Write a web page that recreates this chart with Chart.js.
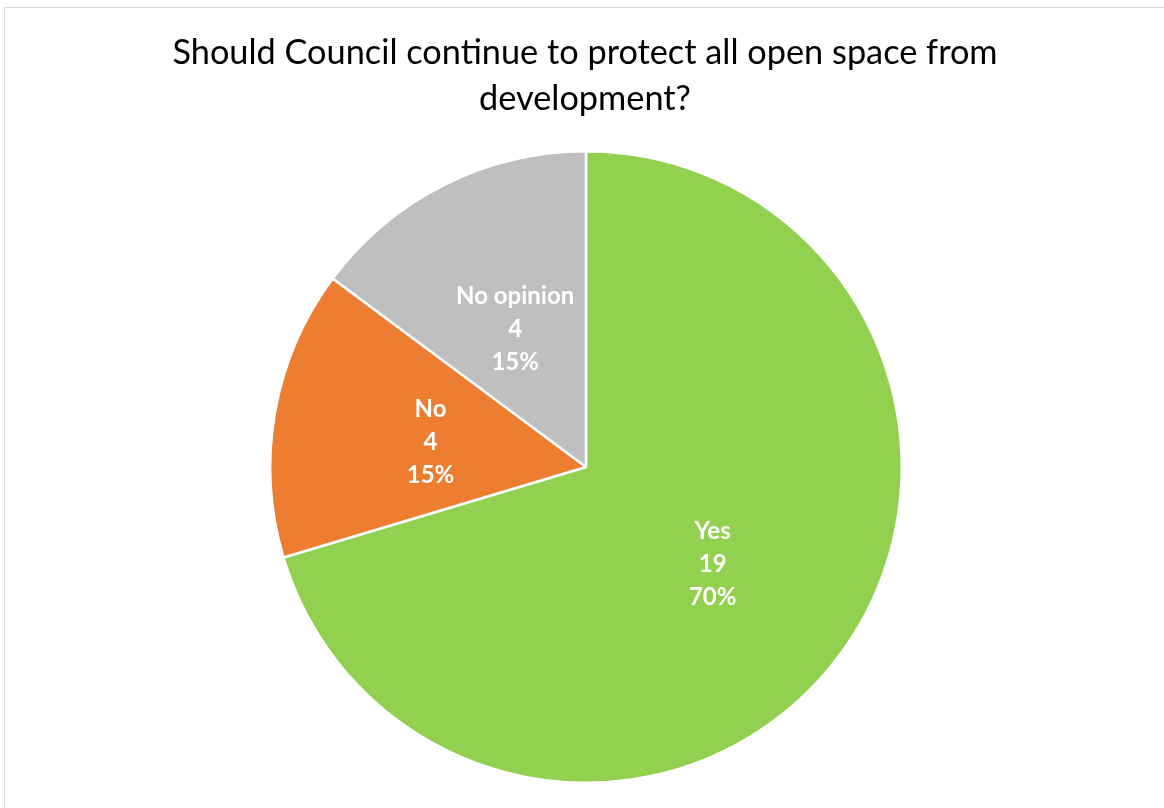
<!DOCTYPE html>
<html>
<head>
<meta charset="utf-8">
<script src="https://cdn.jsdelivr.net/npm/chart.js@4"></script>
<style>
  body { margin: 0; background: #fff; }
  #wrap { position: absolute; left: 4px; top: 7px; width: 1170px; height: 810px; border: 1.5px solid #d9d9d9; }
  #chart { position: absolute; left: 0; top: 0; }
</style>
</head>
<body>
<div id="wrap"></div>
<canvas id="chart" width="1164" height="808"></canvas>
<script>
const categorias = ['Yes', 'No', 'No opinion'];
const respuestas = [19, 4, 4];
const colores = ['#92D050', '#ED7D31', '#BFBFBF'];
const titulo = ['Should Council continue to protect all open space from', 'development?'];

const total = respuestas.reduce((a, b) => a + b, 0);

const etiquetas = {
  id: 'etiquetas',
  afterDraw(chart) {
    const ctx = chart.ctx;
    ctx.save();
    // titulo
    ctx.fillStyle = '#000';
    ctx.font = '34.3px Lato, "Open Sans", sans-serif';
    ctx.textAlign = 'center';
    ctx.textBaseline = 'middle';
    titulo.forEach((t, i) => ctx.fillText(t, 585, 53 + i * 46));

    // etiquetas de los sectores
    ctx.fillStyle = '#fff';
    ctx.font = 'bold 24px Lato, "Open Sans", sans-serif';
    chart.getDatasetMeta(0).data.forEach((arc, i) => {
      const p = arc.tooltipPosition();
      const pct = Math.round(respuestas[i] / total * 100) + '%';
      const lineas = [categorias[i], String(respuestas[i]), pct];
      lineas.forEach((l, j) => ctx.fillText(l, p.x, p.y + 3 + (j - 1) * 33));
    });
    ctx.restore();
  }
};

new Chart(document.getElementById('chart'), {
  type: 'pie',
  data: {
    labels: categorias,
    datasets: [{
      data: respuestas,
      backgroundColor: colores,
      borderColor: '#fff',
      borderWidth: 2.5
    }]
  },
  options: {
    responsive: false,
    animation: false,
    layout: { padding: { top: 150, bottom: 24, left: 8, right: 0 } },
    plugins: {
      legend: { display: false },
      tooltip: { enabled: false },
      title: { display: false }
    }
  },
  plugins: [etiquetas]
});
</script>
</body>
</html>
